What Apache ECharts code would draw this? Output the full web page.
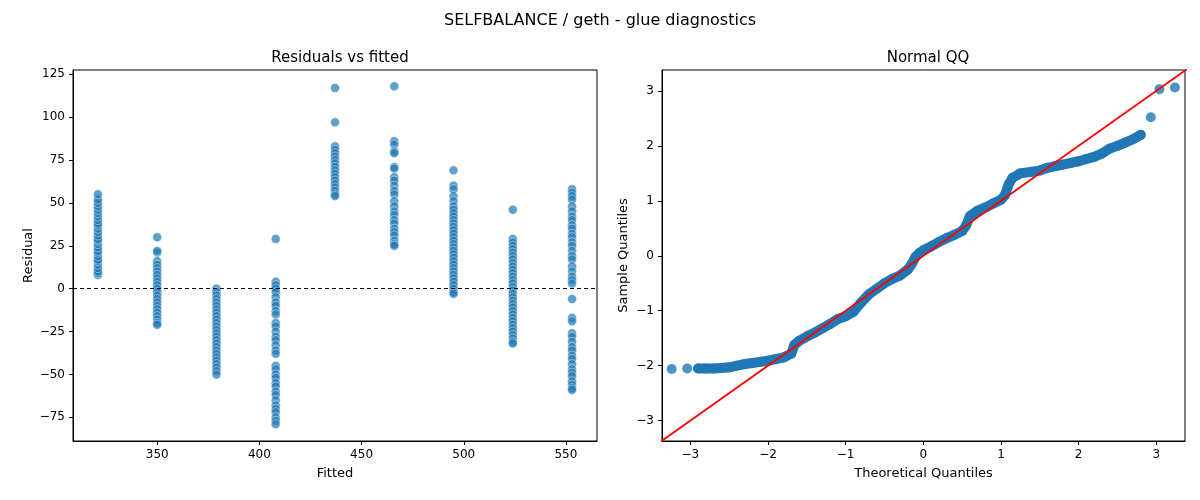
<!DOCTYPE html>
<html>
<head>
<meta charset="utf-8">
<script src="https://cdn.jsdelivr.net/npm/echarts@6/dist/echarts.min.js"></script>
<style>html,body{margin:0;background:#fff}#echarts{width:1200px;height:500px}</style>
</head>
<body>
<div id="echarts"></div>
<script>
// fitted value of each column and the residuals seen in it
var fitted = [321, 350, 379, 408, 437, 466, 495, 524, 553];
var residuals = [
    [8,9,10,12,14,16,17,19,21,22,24,26,28,29,31,33,35,37,38,40,42,44,46,48,50,52,55],
    [30,21,22,16,14,12,10,8,6,4,2,0,-2,-4,-6,-8,-10,-12,-14,-16,-18,-20,-21],
    [0,-2,-4,-6,-8,-10,-12,-14,-16,-18,-20,-22,-24,-26,-28,-30,-32,-34,-36,-38,-40,-42,-44,-46,-48,-50],
    [29,4,2,0,-2,-5,-8,-10,-13,-15,-20,-22,-25,-28,-30,-33,-36,-38,-45,-47,-50,-52,-55,-57,-60,-62,-65,-68,-70,-72,-75,-77,-79],
    [117,97,83,81,79,77,75,73,71,69,67,65,63,61,59,57,55,54],
    [118,86,84,80,79,71,70,65,63,60,57,55,51,48,45,43,40,38,35,33,31,28,26,25],
    [69,60,58,54,51,48,46,44,42,40,38,36,34,32,30,28,26,24,22,20,18,16,14,12,10,8,6,4,2,0,-2,-3],
    [46,29,27,25,23,21,19,17,15,13,11,9,7,5,3,1,-1,-3,-5,-7,-9,-11,-13,-15,-17,-19,-21,-23,-25,-27,-29,-31,-32],
    [58,56,54,52,48,45,42,40,37,35,32,30,27,25,22,19,17,13,10,7,5,3,-6,-17,-19,-26,-28,-31,-34,-36,-39,-41,-44,-47,-49,-51,-54,-56,-58,-59]
];
// normal QQ
var theoretical = [-3.24,-3.04,-2.9,-2.8,-2.7,-2.6,-2.5,-2.4,-2.3,-2.2,-2.1,-2.0,-1.9,-1.8,-1.7,-1.66,-1.6,-1.5,-1.4,-1.3,-1.2,-1.1,-1.0,-0.9,-0.8,-0.7,-0.6,-0.5,-0.4,-0.3,-0.2,-0.15,-0.1,-0.05,0,0.1,0.2,0.3,0.4,0.5,0.55,0.6,0.7,0.8,0.9,1.0,1.05,1.1,1.15,1.25,1.4,1.5,1.6,1.7,1.8,1.9,2.0,2.1,2.2,2.3,2.4,2.5,2.6,2.7,2.8,2.93,3.04,3.24];
var sample = [-2.06,-2.05,-2.05,-2.05,-2.05,-2.04,-2.03,-2.0,-1.97,-1.95,-1.93,-1.91,-1.88,-1.85,-1.78,-1.62,-1.55,-1.47,-1.4,-1.32,-1.24,-1.15,-1.1,-1.02,-0.85,-0.7,-0.6,-0.5,-0.42,-0.36,-0.25,-0.15,-0.02,0.05,0.1,0.17,0.25,0.32,0.38,0.45,0.55,0.72,0.82,0.88,0.95,1.02,1.1,1.3,1.42,1.5,1.53,1.55,1.6,1.63,1.66,1.69,1.72,1.76,1.8,1.86,1.95,2.0,2.06,2.12,2.2,2.52,3.03,3.06];
var refLine = [-3.5, 3.5];
var leftTicksX = [350,400,450,500,550];
var leftTicksY = [-75,-50,-25,0,25,50,75,100,125];
var qqTicks = [-3,-2,-1,0,1,2,3];

var resPoints = [];
for (var i = 0; i < fitted.length; i++) {
    for (var j = 0; j < residuals[i].length; j++) resPoints.push([fitted[i], residuals[i][j]]);
}
var qqPoints = theoretical.map(function (t, k) { return [t, sample[k]]; });
// dense middle part is drawn as a thick band
var qqBand = qqPoints.slice(2, qqPoints.length - 3);

var font = 'DejaVu Sans';
function axis(min, max, ticks, name, gap) {
    return {
        type: 'value', min: min, max: max, name: name, nameLocation: 'middle', nameGap: gap,
        nameTextStyle: {color: '#000', fontSize: 13, fontFamily: font},
        axisLine: {show: true, onZero: false, lineStyle: {color: '#000', width: 1}},
        axisTick: {show: true, customValues: ticks, length: 4, lineStyle: {color: '#000'}},
        axisLabel: {customValues: ticks, color: '#000', fontSize: 12, fontFamily: font,
            formatter: function (v) { return String(v).replace('-', '\u2212'); }},
        splitLine: {show: false}
    };
}

var myChart = echarts.init(document.getElementById('echarts'));
var option = {
    animation: false,
    title: [
        {text: 'SELFBALANCE / geth - glue diagnostics', left: 'center', top: 8,
            textStyle: {fontSize: 16, fontWeight: 'normal', color: '#000', fontFamily: font}},
        {text: 'Residuals vs fitted', left: 335, top: 46, textAlign: 'center',
            textStyle: {fontSize: 15, fontWeight: 'normal', color: '#000', fontFamily: font}},
        {text: 'Normal QQ', left: 923, top: 46, textAlign: 'center',
            textStyle: {fontSize: 15, fontWeight: 'normal', color: '#000', fontFamily: font}}
    ],
    grid: [
        {left: 73, right: 603, top: 70, bottom: 59, show: true, borderColor: '#000', borderWidth: 1},
        {left: 662, right: 15, top: 70, bottom: 59, show: true, borderColor: '#000', borderWidth: 1}
    ],
    xAxis: [
        Object.assign(axis(308.8, 565.2, leftTicksX, 'Fitted', 26), {gridIndex: 0}),
        Object.assign(axis(-3.365, 3.37, qqTicks, 'Theoretical Quantiles', 26), {gridIndex: 1})
    ],
    yAxis: [
        Object.assign(axis(-88.8, 127.5, leftTicksY, 'Residual', 38), {gridIndex: 0}),
        Object.assign(axis(-3.37, 3.38, qqTicks, 'Sample Quantiles', 32), {gridIndex: 1})
    ],
    series: [
        {
            type: 'scatter', xAxisIndex: 0, yAxisIndex: 0, data: resPoints, symbolSize: 9,
            itemStyle: {color: '#1f77b4', opacity: 0.7, borderColor: '#fff', borderWidth: 0.6},
            markLine: {silent: true, symbol: 'none', label: {show: false},
                lineStyle: {color: '#000', type: [4, 3], width: 1}, data: [{yAxis: 0}]}
        },
        {
            type: 'line', xAxisIndex: 1, yAxisIndex: 1, data: qqBand, showSymbol: false,
            lineStyle: {color: '#1f77b4', width: 10, cap: 'round', join: 'round'}
        },
        {
            type: 'scatter', xAxisIndex: 1, yAxisIndex: 1, data: qqPoints, symbolSize: 10,
            itemStyle: {color: '#1f77b4'}
        },
        {
            type: 'line', xAxisIndex: 1, yAxisIndex: 1, showSymbol: false, clip: true,
            data: refLine.map(function (v) { return [v, v]; }),
            lineStyle: {color: '#ff0000', width: 1.8}
        }
    ]
};
myChart.setOption(option);
</script>
</body>
</html>
